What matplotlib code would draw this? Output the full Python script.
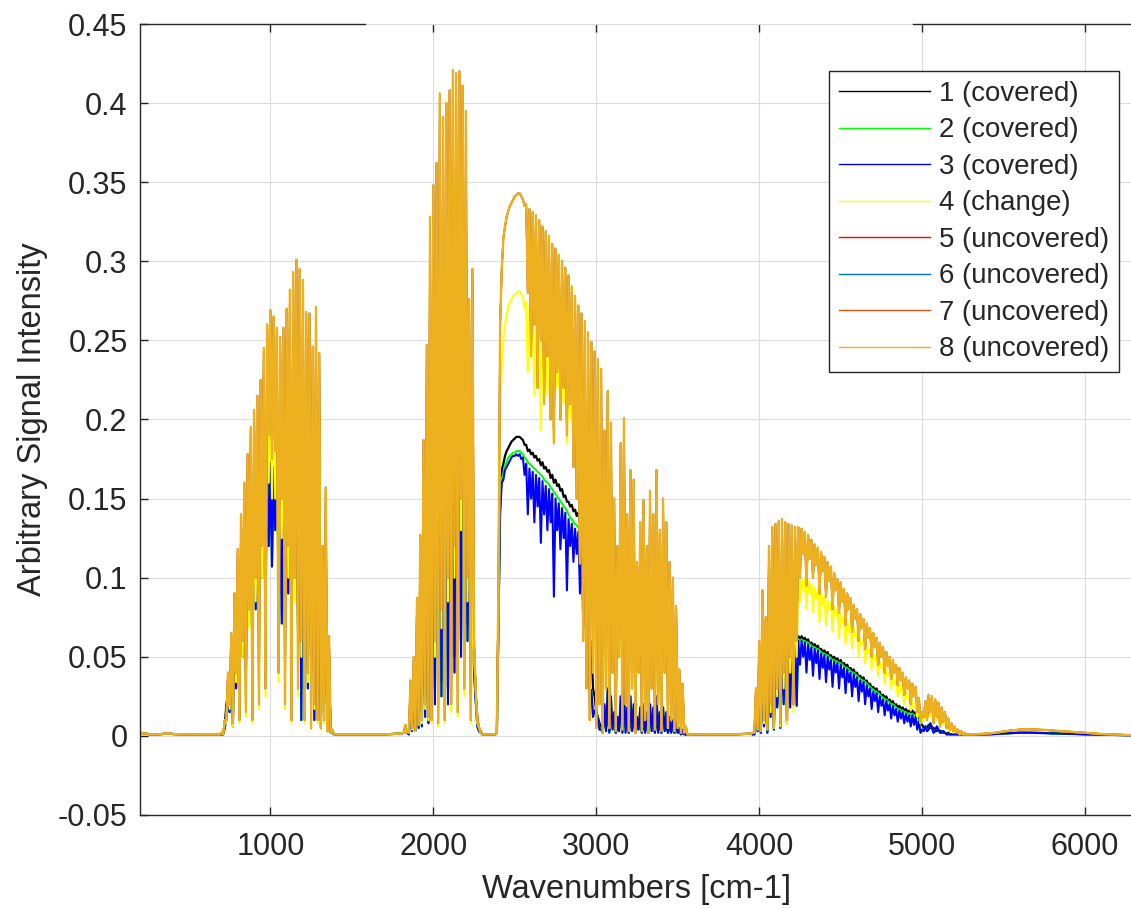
import numpy as np
import matplotlib
matplotlib.use('Agg')
import matplotlib.pyplot as plt

plt.rcParams['font.family'] = ['Liberation Sans', 'DejaVu Sans']

# ---- values ----
# baseline points between the absorption bands
gap_x = [200, 230, 260, 300, 340, 370, 400, 450, 500, 550, 600, 650, 690,
         1400, 1450, 1500, 1550, 1600, 1650, 1700, 1750, 1800, 1820, 1828, 1835,
         2320, 2350, 2380,
         3580, 3650, 3700, 3750, 3800, 3850, 3900, 3950,
         5280, 5350, 5400, 5450, 5500, 5550, 5600, 5650, 5700, 5750, 5800, 5850,
         5900, 5950, 6000, 6050, 6100, 6150, 6200, 6250, 6280]
gap_uncovered = [0.002, 0.0015, 0.001, 0.001, 0.0012, 0.0018, 0.0012, 0.001, 0.001, 0.001, 0.001, 0.001, 0.001,
                 0.001, 0.001, 0.001, 0.001, 0.001, 0.001, 0.001, 0.0012, 0.0015, 0.002, 0.007, 0.002,
                 0.001, 0.001, 0.001,
                 0.001, 0.001, 0.001, 0.001, 0.001, 0.001, 0.0012, 0.0015,
                 0.001, 0.0012, 0.0015, 0.002, 0.0028, 0.0035, 0.004, 0.0042, 0.004, 0.0038, 0.0034, 0.003,
                 0.0027, 0.0023, 0.002, 0.0016, 0.0012, 0.001, 0.0008, 0.0006, 0.0005]
gap_covered = [0.002, 0.0015, 0.001, 0.001, 0.0012, 0.0018, 0.0012, 0.001, 0.001, 0.001, 0.001, 0.001, 0.001,
               0.001, 0.001, 0.001, 0.001, 0.001, 0.001, 0.001, 0.0012, 0.0015, 0.002, 0.006, 0.002,
               0.001, 0.001, 0.001,
               0.001, 0.001, 0.001, 0.001, 0.001, 0.001, 0.0012, 0.0014,
               0.001, 0.001, 0.001, 0.0012, 0.0015, 0.0018, 0.002, 0.002, 0.0019, 0.0018, 0.0016, 0.0015,
               0.0013, 0.0012, 0.001, 0.0009, 0.0008, 0.0007, 0.0006, 0.0005, 0.0004]

# bands: peak values every 20 cm-1 from the start, dip values half way between
b1_start, b2_start, b3_start, b4_start = 700, 1840, 2390, 3960

# 5-8 (uncovered)
unc_b1_top = [0.002, 0.010, 0.040, 0.065, 0.090, 0.118, 0.140, 0.160, 0.178, 0.195,
              0.206, 0.215, 0.225, 0.245, 0.260, 0.269, 0.265, 0.258, 0.252, 0.258,
              0.270, 0.282, 0.293, 0.301, 0.295, 0.288, 0.268, 0.267, 0.246, 0.271,
              0.242, 0.120, 0.157, 0.063, 0.004]
unc_b1_low = [0.001, 0.010, 0.020, 0.008, 0.040, 0.010, 0.060, 0.015, 0.080, 0.010,
              0.100, 0.020, 0.120, 0.030, 0.190, 0.175, 0.180, 0.040, 0.150, 0.020,
              0.120, 0.010, 0.100, 0.030, 0.060, 0.010, 0.040, 0.005, 0.020, 0.010,
              0.005, 0.010, 0.003, 0.002, 0.001]
unc_b2_top = [0.004, 0.035, 0.050, 0.087, 0.127, 0.187, 0.247, 0.328, 0.348, 0.362,
              0.406, 0.391, 0.400, 0.408, 0.421, 0.419, 0.420, 0.411, 0.395, 0.276,
              0.295, 0.030, 0.006, 0.001]
unc_b2_low = [0.002, 0.005, 0.004, 0.008, 0.010, 0.020, 0.012, 0.010, 0.060, 0.008,
              0.080, 0.010, 0.100, 0.020, 0.120, 0.015, 0.150, 0.030, 0.100, 0.010,
              0.060, 0.010, 0.002, 0.001]
unc_b3_top = [0.002, 0.260, 0.315, 0.328, 0.335, 0.339, 0.342, 0.343, 0.339, 0.336,
              0.333, 0.331, 0.329, 0.326, 0.322, 0.319, 0.316, 0.311, 0.308, 0.304,
              0.300, 0.296, 0.291, 0.284, 0.278, 0.272, 0.267, 0.262, 0.255, 0.249,
              0.243, 0.238, 0.232, 0.193, 0.218, 0.198, 0.150, 0.120, 0.185, 0.201,
              0.140, 0.168, 0.162, 0.110, 0.135, 0.149, 0.120, 0.155, 0.140, 0.168,
              0.130, 0.150, 0.135, 0.110, 0.100, 0.082, 0.042, 0.033, 0.006]
unc_b3_low = [0.100, 0.295, 0.322, 0.332, 0.337, 0.341, 0.343, 0.341, 0.335, 0.280,
              0.240, 0.260, 0.220, 0.250, 0.210, 0.240, 0.200, 0.185, 0.230, 0.200,
              0.220, 0.190, 0.210, 0.170, 0.150, 0.109, 0.060, 0.030, 0.010, 0.040,
              0.005, 0.020, 0.002, 0.030, 0.005, 0.040, 0.003, 0.050, 0.004, 0.020,
              0.003, 0.030, 0.002, 0.040, 0.003, 0.010, 0.002, 0.030, 0.004, 0.020,
              0.003, 0.040, 0.005, 0.010, 0.003, 0.005, 0.002, 0.002, 0.001]
unc_b4_top = [0.002, 0.030, 0.060, 0.092, 0.075, 0.120, 0.132, 0.134, 0.136, 0.137,
              0.135, 0.134, 0.133, 0.132, 0.132, 0.131, 0.129, 0.127, 0.124, 0.121,
              0.119, 0.116, 0.113, 0.110, 0.107, 0.103, 0.099, 0.097, 0.093, 0.090,
              0.087, 0.083, 0.080, 0.077, 0.074, 0.071, 0.068, 0.065, 0.062, 0.059,
              0.056, 0.053, 0.050, 0.048, 0.045, 0.043, 0.040, 0.037, 0.035, 0.033,
              0.031, 0.024, 0.015, 0.022, 0.026, 0.025, 0.023, 0.021, 0.018, 0.015,
              0.011, 0.008, 0.006, 0.004, 0.003, 0.002]
unc_b4_low = [0.002, 0.005, 0.003, 0.010, 0.004, 0.020, 0.006, 0.030, 0.008, 0.040,
              0.010, 0.050, 0.020, 0.060, 0.100, 0.115, 0.095, 0.112, 0.100, 0.108,
              0.090, 0.104, 0.088, 0.098, 0.080, 0.092, 0.078, 0.085, 0.070, 0.080,
              0.066, 0.074, 0.060, 0.068, 0.055, 0.062, 0.050, 0.056, 0.045, 0.050,
              0.040, 0.044, 0.036, 0.040, 0.032, 0.035, 0.026, 0.030, 0.020, 0.025,
              0.015, 0.008, 0.012, 0.010, 0.015, 0.008, 0.012, 0.006, 0.009, 0.005,
              0.004, 0.003, 0.002, 0.002, 0.001, 0.001]

# 4 (change)
chg_b1_top = [0.002, 0.008, 0.034, 0.055, 0.076, 0.100, 0.119, 0.136, 0.151, 0.166,
              0.175, 0.183, 0.191, 0.208, 0.221, 0.229, 0.225, 0.219, 0.214, 0.219,
              0.229, 0.240, 0.249, 0.256, 0.251, 0.245, 0.228, 0.227, 0.209, 0.230,
              0.206, 0.102, 0.133, 0.054, 0.003]
chg_b1_low = [0.001, 0.008, 0.017, 0.006, 0.034, 0.008, 0.050, 0.012, 0.068, 0.008,
              0.085, 0.017, 0.100, 0.025, 0.160, 0.150, 0.150, 0.034, 0.125, 0.017,
              0.100, 0.008, 0.085, 0.025, 0.050, 0.008, 0.034, 0.004, 0.017, 0.008,
              0.004, 0.008, 0.003, 0.002, 0.001]
chg_b2_top = [0.003, 0.030, 0.043, 0.074, 0.108, 0.159, 0.210, 0.279, 0.296, 0.308,
              0.345, 0.332, 0.340, 0.347, 0.358, 0.356, 0.357, 0.349, 0.336, 0.235,
              0.100, 0.030, 0.005, 0.001]
chg_b2_low = [0.002, 0.004, 0.003, 0.007, 0.008, 0.017, 0.010, 0.008, 0.050, 0.006,
              0.068, 0.008, 0.085, 0.015, 0.100, 0.012, 0.130, 0.025, 0.085, 0.008,
              0.050, 0.008, 0.002, 0.001]
chg_b3_top = [0.002, 0.200, 0.250, 0.266, 0.274, 0.278, 0.280, 0.281, 0.278, 0.274,
              0.271, 0.269, 0.265, 0.262, 0.259, 0.256, 0.253, 0.250, 0.248, 0.244,
              0.240, 0.235, 0.230, 0.225, 0.218, 0.210, 0.195, 0.181, 0.175, 0.170,
              0.165, 0.160, 0.155, 0.150, 0.170, 0.155, 0.115, 0.095, 0.145, 0.155,
              0.110, 0.130, 0.125, 0.085, 0.105, 0.115, 0.092, 0.120, 0.108, 0.130,
              0.100, 0.115, 0.105, 0.085, 0.077, 0.063, 0.032, 0.025, 0.005]
chg_b3_low = [0.080, 0.235, 0.260, 0.271, 0.276, 0.279, 0.281, 0.279, 0.270, 0.230,
              0.250, 0.215, 0.240, 0.193, 0.230, 0.215, 0.225, 0.185, 0.220, 0.200,
              0.210, 0.185, 0.200, 0.170, 0.150, 0.109, 0.060, 0.030, 0.010, 0.040,
              0.005, 0.020, 0.002, 0.030, 0.005, 0.040, 0.003, 0.050, 0.004, 0.020,
              0.003, 0.030, 0.002, 0.040, 0.003, 0.010, 0.002, 0.030, 0.004, 0.020,
              0.003, 0.040, 0.005, 0.010, 0.003, 0.005, 0.002, 0.002, 0.001]
chg_b4_top = [0.002, 0.025, 0.048, 0.074, 0.060, 0.096, 0.100, 0.101, 0.101, 0.101,
              0.100, 0.100, 0.099, 0.099, 0.099, 0.099, 0.099, 0.098, 0.096, 0.094,
              0.092, 0.090, 0.088, 0.086, 0.084, 0.082, 0.080, 0.078, 0.075, 0.073,
              0.070, 0.068, 0.065, 0.062, 0.060, 0.057, 0.055, 0.052, 0.050, 0.047,
              0.045, 0.042, 0.040, 0.038, 0.035, 0.033, 0.031, 0.028, 0.025, 0.022,
              0.019, 0.016, 0.012, 0.016, 0.019, 0.018, 0.017, 0.015, 0.013, 0.011,
              0.008, 0.006, 0.004, 0.003, 0.002, 0.001]
chg_b4_low = [0.002, 0.004, 0.003, 0.008, 0.004, 0.015, 0.005, 0.025, 0.006, 0.030,
              0.008, 0.040, 0.015, 0.050, 0.085, 0.092, 0.080, 0.090, 0.078, 0.087,
              0.072, 0.083, 0.070, 0.080, 0.066, 0.076, 0.062, 0.072, 0.058, 0.066,
              0.055, 0.063, 0.050, 0.058, 0.046, 0.053, 0.042, 0.048, 0.038, 0.043,
              0.033, 0.038, 0.030, 0.033, 0.025, 0.028, 0.020, 0.024, 0.016, 0.018,
              0.012, 0.008, 0.010, 0.010, 0.012, 0.008, 0.010, 0.006, 0.007, 0.004,
              0.003, 0.002, 0.002, 0.001, 0.001, 0.001]

# 1 (covered)
c1_b1_top = [0.001, 0.006, 0.026, 0.042, 0.058, 0.076, 0.090, 0.103, 0.115, 0.126,
             0.133, 0.139, 0.145, 0.158, 0.168, 0.173, 0.170, 0.170, 0.162, 0.166,
             0.174, 0.181, 0.188, 0.193, 0.189, 0.185, 0.172, 0.171, 0.158, 0.174,
             0.155, 0.077, 0.100, 0.040, 0.002]
c1_b1_low = [0.001, 0.020, 0.030, 0.020, 0.045, 0.055, 0.065, 0.060, 0.085, 0.075,
             0.095, 0.105, 0.115, 0.095, 0.135, 0.125, 0.145, 0.115, 0.090, 0.125,
             0.105, 0.080, 0.115, 0.080, 0.030, 0.095, 0.045, 0.065, 0.020, 0.045,
             0.010, 0.030, 0.006, 0.003, 0.001]
c1_b2_top = [0.002, 0.022, 0.032, 0.056, 0.081, 0.120, 0.158, 0.210, 0.222, 0.232,
             0.260, 0.250, 0.256, 0.261, 0.269, 0.268, 0.269, 0.263, 0.253, 0.176,
             0.080, 0.025, 0.004, 0.001]
c1_b2_low = [0.001, 0.006, 0.008, 0.012, 0.015, 0.022, 0.018, 0.054, 0.030, 0.060,
             0.035, 0.070, 0.030, 0.060, 0.050, 0.090, 0.060, 0.130, 0.070, 0.134,
             0.050, 0.012, 0.003, 0.001]
c1_b3_top = [0.002, 0.150, 0.172, 0.180, 0.184, 0.187, 0.189, 0.189, 0.187, 0.184,
             0.181, 0.179, 0.177, 0.175, 0.173, 0.170, 0.168, 0.165, 0.162, 0.159,
             0.156, 0.152, 0.148, 0.146, 0.143, 0.141, 0.135, 0.128, 0.100, 0.060,
             0.025, 0.012, 0.006, 0.008, 0.012, 0.010, 0.006, 0.005, 0.010, 0.012,
             0.007, 0.010, 0.008, 0.005, 0.007, 0.008, 0.006, 0.008, 0.007, 0.010,
             0.006, 0.007, 0.006, 0.005, 0.004, 0.004, 0.003, 0.002, 0.001]
c1_b3_low = [0.080, 0.168, 0.177, 0.182, 0.186, 0.188, 0.189, 0.188, 0.184, 0.180,
             0.178, 0.176, 0.174, 0.171, 0.169, 0.167, 0.163, 0.160, 0.158, 0.155,
             0.151, 0.148, 0.145, 0.142, 0.139, 0.135, 0.125, 0.090, 0.050, 0.030,
             0.015, 0.008, 0.004, 0.006, 0.003, 0.008, 0.002, 0.010, 0.003, 0.005,
             0.002, 0.006, 0.002, 0.008, 0.002, 0.003, 0.002, 0.006, 0.002, 0.004,
             0.002, 0.008, 0.002, 0.003, 0.002, 0.002, 0.001, 0.001, 0.001]
c1_b4_top = [0.001, 0.012, 0.030, 0.046, 0.040, 0.055, 0.060, 0.061, 0.062, 0.063,
             0.063, 0.063, 0.063, 0.063, 0.063, 0.063, 0.062, 0.061, 0.059, 0.058,
             0.057, 0.055, 0.054, 0.053, 0.051, 0.050, 0.049, 0.048, 0.046, 0.045,
             0.043, 0.042, 0.040, 0.038, 0.037, 0.035, 0.033, 0.031, 0.030, 0.028,
             0.026, 0.025, 0.023, 0.022, 0.020, 0.019, 0.018, 0.017, 0.016, 0.016,
             0.015, 0.012, 0.007, 0.006, 0.007, 0.006, 0.005, 0.004, 0.003, 0.002,
             0.002, 0.001, 0.001, 0.001, 0.001, 0.001]
c1_b4_low = [0.001, 0.004, 0.002, 0.008, 0.003, 0.015, 0.005, 0.020, 0.006, 0.030,
             0.008, 0.035, 0.025, 0.050, 0.061, 0.061, 0.060, 0.058, 0.057, 0.056,
             0.054, 0.053, 0.052, 0.050, 0.049, 0.048, 0.046, 0.045, 0.044, 0.042,
             0.041, 0.039, 0.037, 0.036, 0.034, 0.032, 0.030, 0.029, 0.027, 0.025,
             0.024, 0.022, 0.021, 0.019, 0.018, 0.017, 0.016, 0.015, 0.015, 0.014,
             0.012, 0.008, 0.005, 0.005, 0.005, 0.004, 0.003, 0.003, 0.002, 0.001,
             0.001, 0.001, 0.001, 0.001, 0.001, 0.001]

# 2 (covered), bands 3 and 4 (bands 1 and 2 sit under trace 3)
c2_b3_top = [0.002, 0.145, 0.165, 0.173, 0.177, 0.179, 0.180, 0.180, 0.178, 0.175,
             0.172, 0.170, 0.168, 0.166, 0.164, 0.161, 0.159, 0.156, 0.153, 0.150,
             0.147, 0.144, 0.140, 0.137, 0.134, 0.132, 0.126, 0.115, 0.080, 0.029,
             0.016, 0.010, 0.004, 0.020, 0.030, 0.025, 0.015, 0.012, 0.025, 0.030,
             0.018, 0.025, 0.020, 0.012, 0.018, 0.020, 0.015, 0.020, 0.018, 0.025,
             0.015, 0.018, 0.015, 0.012, 0.010, 0.008, 0.005, 0.004, 0.001]
c2_b3_low = [0.070, 0.163, 0.171, 0.176, 0.178, 0.179, 0.180, 0.179, 0.176, 0.173,
             0.171, 0.169, 0.167, 0.165, 0.162, 0.160, 0.157, 0.154, 0.151, 0.148,
             0.145, 0.142, 0.138, 0.135, 0.133, 0.129, 0.122, 0.060, 0.029, 0.012,
             0.016, 0.004, 0.002, 0.003, 0.002, 0.004, 0.002, 0.003, 0.002, 0.002,
             0.002, 0.003, 0.002, 0.004, 0.002, 0.002, 0.002, 0.003, 0.002, 0.002,
             0.002, 0.003, 0.002, 0.002, 0.002, 0.002, 0.001, 0.001, 0.001]
c2_b4_top = [0.001, 0.011, 0.028, 0.044, 0.038, 0.052, 0.057, 0.058, 0.059, 0.060,
             0.060, 0.060, 0.060, 0.060, 0.061, 0.061, 0.060, 0.059, 0.057, 0.056,
             0.055, 0.053, 0.052, 0.051, 0.049, 0.048, 0.047, 0.046, 0.044, 0.043,
             0.041, 0.040, 0.038, 0.036, 0.035, 0.033, 0.031, 0.029, 0.028, 0.026,
             0.024, 0.023, 0.021, 0.020, 0.018, 0.017, 0.016, 0.015, 0.014, 0.014,
             0.013, 0.010, 0.004, 0.006, 0.004, 0.005, 0.003, 0.004, 0.002, 0.002,
             0.001, 0.001, 0.001, 0.001, 0.001, 0.001]
c2_b4_low = [0.001, 0.003, 0.002, 0.006, 0.002, 0.012, 0.004, 0.018, 0.005, 0.020,
             0.025, 0.018, 0.030, 0.019, 0.060, 0.060, 0.059, 0.058, 0.056, 0.055,
             0.054, 0.052, 0.051, 0.050, 0.048, 0.047, 0.046, 0.045, 0.043, 0.042,
             0.040, 0.039, 0.037, 0.035, 0.034, 0.032, 0.030, 0.028, 0.027, 0.025,
             0.023, 0.022, 0.020, 0.019, 0.017, 0.016, 0.015, 0.014, 0.013, 0.013,
             0.004, 0.002, 0.003, 0.003, 0.008, 0.002, 0.006, 0.002, 0.003, 0.001,
             0.001, 0.001, 0.001, 0.001, 0.001, 0.001]

# 3 (covered)
c3_b1_top = [0.001, 0.005, 0.023, 0.039, 0.055, 0.073, 0.087, 0.100, 0.112, 0.123,
             0.130, 0.136, 0.142, 0.155, 0.165, 0.170, 0.167, 0.167, 0.159, 0.163,
             0.171, 0.178, 0.185, 0.190, 0.186, 0.182, 0.169, 0.168, 0.155, 0.171,
             0.152, 0.075, 0.098, 0.038, 0.002]
c3_b1_low = [0.001, 0.010, 0.015, 0.006, 0.030, 0.040, 0.050, 0.042, 0.070, 0.060,
             0.080, 0.090, 0.100, 0.080, 0.120, 0.107, 0.130, 0.100, 0.071, 0.110,
             0.090, 0.061, 0.100, 0.061, 0.010, 0.080, 0.030, 0.050, 0.010, 0.030,
             0.005, 0.020, 0.003, 0.002, 0.001]
c3_b2_top = [0.002, 0.019, 0.029, 0.052, 0.077, 0.116, 0.154, 0.206, 0.218, 0.228,
             0.256, 0.246, 0.252, 0.257, 0.265, 0.264, 0.265, 0.259, 0.249, 0.172,
             0.076, 0.022, 0.003, 0.001]
c3_b2_low = [0.001, 0.003, 0.003, 0.005, 0.006, 0.012, 0.008, 0.044, 0.020, 0.050,
             0.025, 0.060, 0.020, 0.050, 0.040, 0.080, 0.050, 0.120, 0.060, 0.124,
             0.040, 0.006, 0.002, 0.001]
c3_b3_top = [0.002, 0.140, 0.162, 0.170, 0.174, 0.177, 0.178, 0.178, 0.176, 0.172,
             0.169, 0.167, 0.165, 0.163, 0.161, 0.158, 0.156, 0.153, 0.150, 0.147,
             0.144, 0.141, 0.137, 0.134, 0.131, 0.129, 0.122, 0.110, 0.075, 0.029,
             0.016, 0.010, 0.004, 0.020, 0.030, 0.025, 0.015, 0.012, 0.025, 0.030,
             0.018, 0.025, 0.020, 0.012, 0.018, 0.020, 0.015, 0.020, 0.018, 0.025,
             0.015, 0.018, 0.015, 0.012, 0.010, 0.008, 0.005, 0.004, 0.001]
c3_b3_low = [0.070, 0.160, 0.168, 0.172, 0.176, 0.177, 0.177, 0.175, 0.165, 0.140,
             0.150, 0.135, 0.145, 0.122, 0.140, 0.130, 0.135, 0.088, 0.130, 0.118,
             0.125, 0.092, 0.120, 0.110, 0.115, 0.090, 0.069, 0.060, 0.029, 0.012,
             0.016, 0.004, 0.002, 0.003, 0.002, 0.004, 0.002, 0.003, 0.002, 0.002,
             0.002, 0.003, 0.002, 0.004, 0.002, 0.002, 0.002, 0.003, 0.002, 0.002,
             0.002, 0.003, 0.002, 0.002, 0.002, 0.002, 0.001, 0.001, 0.001]
c3_b4_top = [0.001, 0.011, 0.028, 0.044, 0.038, 0.052, 0.057, 0.058, 0.059, 0.060,
             0.060, 0.060, 0.060, 0.060, 0.060, 0.060, 0.059, 0.058, 0.056, 0.055,
             0.054, 0.052, 0.051, 0.050, 0.048, 0.047, 0.046, 0.045, 0.043, 0.042,
             0.040, 0.039, 0.037, 0.035, 0.034, 0.032, 0.030, 0.028, 0.027, 0.025,
             0.023, 0.022, 0.020, 0.019, 0.017, 0.016, 0.015, 0.014, 0.013, 0.013,
             0.012, 0.009, 0.004, 0.006, 0.004, 0.005, 0.003, 0.004, 0.002, 0.002,
             0.001, 0.001, 0.001, 0.001, 0.001, 0.001]
c3_b4_low = [0.001, 0.003, 0.002, 0.006, 0.002, 0.012, 0.004, 0.018, 0.005, 0.020,
             0.025, 0.018, 0.030, 0.019, 0.045, 0.050, 0.040, 0.048, 0.038, 0.046,
             0.036, 0.043, 0.034, 0.042, 0.031, 0.040, 0.030, 0.037, 0.027, 0.034,
             0.025, 0.031, 0.022, 0.028, 0.020, 0.025, 0.017, 0.022, 0.015, 0.019,
             0.013, 0.016, 0.011, 0.013, 0.009, 0.011, 0.008, 0.009, 0.006, 0.007,
             0.004, 0.002, 0.003, 0.003, 0.008, 0.002, 0.006, 0.002, 0.003, 0.001,
             0.001, 0.001, 0.001, 0.001, 0.001, 0.001]

labels = ['1 (covered)', '2 (covered)', '3 (covered)', '4 (change)',
          '5 (uncovered)', '6 (uncovered)', '7 (uncovered)', '8 (uncovered)']
colors = ['#000000', '#00ff00', '#0000ff', '#ffff00',
          '#ff0000', '#0072bd', '#d95319', '#edb120']
x_ticks = [1000, 2000, 3000, 4000, 5000, 6000]
y_ticks = [-0.05, 0, 0.05, 0.1, 0.15, 0.2, 0.25, 0.3, 0.35, 0.4, 0.45]
y_tick_labels = ['-0.05', '0', '0.05', '0.1', '0.15', '0.2', '0.25', '0.3', '0.35', '0.4', '0.45']


def trace(gap_y, bands):
    # put peaks, dips and baseline points together in wavenumber order
    xs = [np.array(gap_x, float)]
    ys = [np.array(gap_y, float)]
    for start, top, low in bands:
        xt = start + 20.0 * np.arange(len(top))
        xs += [xt, xt[:len(low)] + 10.0]
        ys += [np.array(top, float), np.array(low, float)]
    x = np.concatenate(xs)
    y = np.concatenate(ys)
    order = np.argsort(x, kind='stable')
    return x[order], y[order]


uncovered = trace(gap_uncovered, [(b1_start, unc_b1_top, unc_b1_low), (b2_start, unc_b2_top, unc_b2_low),
                                  (b3_start, unc_b3_top, unc_b3_low), (b4_start, unc_b4_top, unc_b4_low)])
change = trace(gap_uncovered, [(b1_start, chg_b1_top, chg_b1_low), (b2_start, chg_b2_top, chg_b2_low),
                               (b3_start, chg_b3_top, chg_b3_low), (b4_start, chg_b4_top, chg_b4_low)])
cov1 = trace(gap_covered, [(b1_start, c1_b1_top, c1_b1_low), (b2_start, c1_b2_top, c1_b2_low),
                           (b3_start, c1_b3_top, c1_b3_low), (b4_start, c1_b4_top, c1_b4_low)])
cov2 = trace(gap_covered, [(b1_start, c3_b1_top, c3_b1_low), (b2_start, c3_b2_top, c3_b2_low),
                           (b3_start, c2_b3_top, c2_b3_low), (b4_start, c2_b4_top, c2_b4_low)])
cov3 = trace(gap_covered, [(b1_start, c3_b1_top, c3_b1_low), (b2_start, c3_b2_top, c3_b2_low),
                           (b3_start, c3_b3_top, c3_b3_low), (b4_start, c3_b4_top, c3_b4_low)])
traces = [cov1, cov2, cov3, change, uncovered, uncovered, uncovered, uncovered]
widths = [1.6, 1.5, 1.5, 1.5, 1.2, 1.2, 1.2, 1.7]

fig = plt.figure(figsize=(11.31, 9.09), dpi=100)
ax = fig.add_axes([140 / 1131, 94 / 909, 994 / 1131, 791 / 909])

for (x, y), c, lab, w in zip(traces, colors, labels, widths):
    ax.plot(x, y, color=c, lw=w, label=lab)

ax.set_xlim(200, 6300)
ax.set_ylim(-0.05, 0.45)
ax.set_xticks(x_ticks)
ax.set_yticks(y_ticks)
ax.set_yticklabels(y_tick_labels)
ax.grid(True, color='#dcdcdc', lw=0.8)
ax.set_axisbelow(True)

ax.tick_params(axis='both', direction='in', length=6, width=1, colors='#262626',
               labelsize=22, top=True, right=False)
ax.tick_params(axis='x', pad=12)
ax.tick_params(axis='y', pad=9)
for side in ['left', 'bottom']:
    ax.spines[side].set_color('#262626')
    ax.spines[side].set_linewidth(1)
ax.spines['right'].set_visible(False)
ax.spines['top'].set_visible(False)
# the top frame shows only on its two outer stretches
ax.plot([0, 0.2264], [1, 1], transform=ax.transAxes, color='#262626', lw=1, clip_on=False)
ax.plot([0.7777, 1], [1, 1], transform=ax.transAxes, color='#262626', lw=1, clip_on=False)

ax.set_xlabel('Wavenumbers [cm-1]', fontsize=23.5, color='#262626', labelpad=9)
ax.set_ylabel('Arbitrary Signal Intensity', fontsize=23.5, color='#262626', labelpad=7)

leg = ax.legend(loc='upper right', bbox_to_anchor=(1119 / 1131, 1 - 71 / 909),
                bbox_transform=fig.transFigure, fontsize=19.9, fancybox=False,
                framealpha=1, edgecolor='#262626', handlelength=3.3,
                handletextpad=0.33, labelspacing=0.38, borderpad=0.35, borderaxespad=0)
leg.get_frame().set_linewidth(1)
for t in leg.get_texts():
    t.set_color('#262626')
for h in leg.get_lines():
    h.set_linewidth(1.0)

fig.savefig('out.png', dpi=100)
